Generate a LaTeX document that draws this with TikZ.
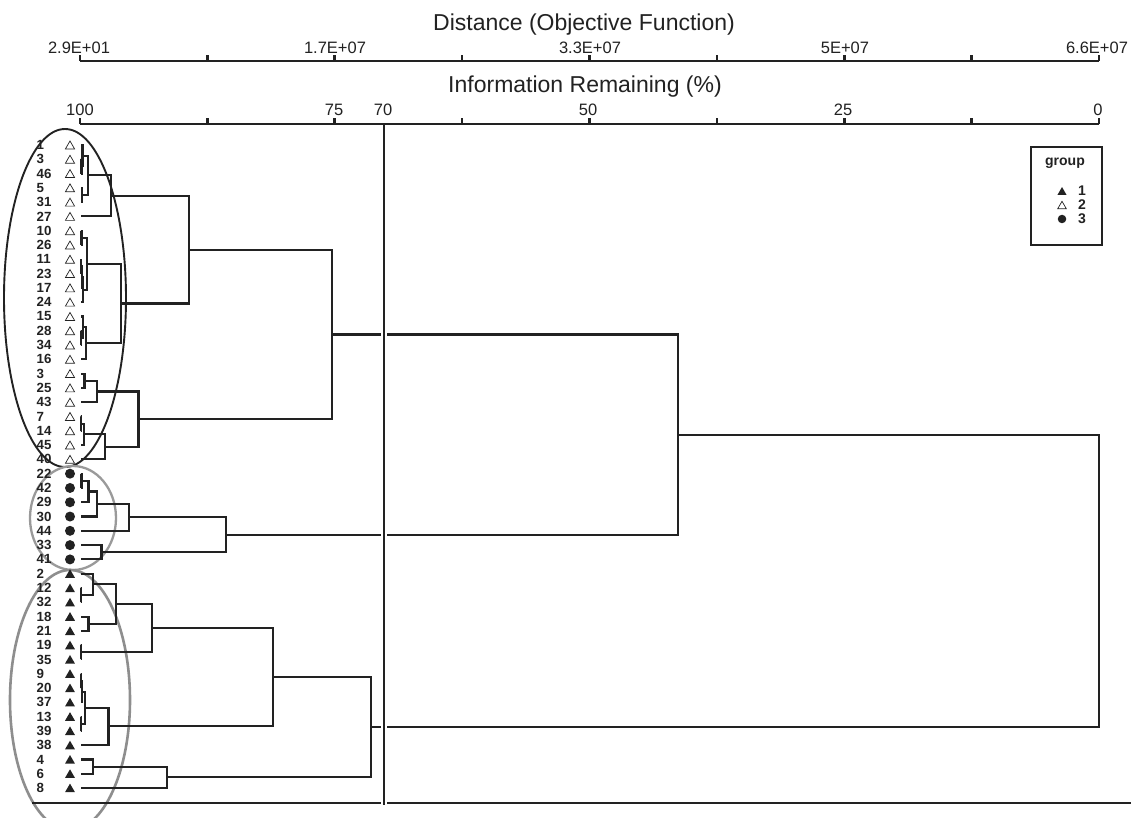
\documentclass[tikz,border=0pt]{standalone}
\usepackage{fontspec}
\setmainfont{Liberation Sans}
\usetikzlibrary{calc,shapes.geometric}
\definecolor{ink}{HTML}{222222}
\definecolor{ringgray}{HTML}{8E8E8E}
\definecolor{ringgrayb}{HTML}{9A9A9A}
\newcommand\myleaf{\fontsize{13.3}{14}\selectfont\bfseries}
\newcommand\mytick{\fontsize{16.5}{18}\selectfont}
\newcommand\mytitle{\fontsize{23}{25}\selectfont}
\newcommand\mylegend{\fontsize{14}{15}\selectfont\bfseries}
\newcommand\dmerge[4]{%
  \path ($(#3)!.5!(#4)$) coordinate (t#1);
  \coordinate (#1) at (#2,0 |- t#1);
  \draw[dline] (#3) -| (#1) |- (#4);
}
\begin{document}
\begin{tikzpicture}[x=1pt,y=-1pt,
  dline/.style={draw=ink,line width=2.1pt},
  axisline/.style={draw=ink,line width=2.6pt},
  lf/.style={font=\myleaf,text=ink,inner sep=0pt,anchor=west},
  ticklab/.style={font=\mytick,text=ink,inner sep=0pt},
  titlelab/.style={font=\mytitle,text=ink,inner sep=0pt},
  symw/.style={regular polygon,regular polygon sides=3,draw=ink,line width=0.7pt,inner sep=0pt,minimum size=10.6pt,yshift=-1.3pt},
  symb/.style={regular polygon,regular polygon sides=3,fill=ink,inner sep=0pt,minimum size=11.5pt,yshift=-1.3pt},
  symc/.style={circle,fill=ink,inner sep=0pt,minimum size=10pt},
  lsymw/.style={symw,minimum size=10pt},
  lsymb/.style={symb,minimum size=10.5pt},
  lsymc/.style={symc,minimum size=8.5pt},
]
\useasboundingbox[fill=white] (0,0) rectangle (1131,818);

% titles and axes
\node[titlelab] (t1) at (584,25) {Distance (Objective Function)};
\node[titlelab] (t2) at (585,87) {Information Remaining (\%)};
\coordinate (a1l) at (80,61); \coordinate (a1r) at (1099,61);
\coordinate (a2l) at (80,124); \coordinate (a2r) at (1099,124);
\draw[axisline] (a1l) -- (a1r);
\draw[axisline] (a2l) -- (a2r);
\foreach \k in {0,...,8} {
  \draw[axisline] ({80+\k*127.375},61) -- ++(0,-5.5);
  \draw[axisline] ({80+\k*127.375},124) -- ++(0,-5.5);
}
\node[ticklab] (d1) at (79,48) {2.9E+01};
\node[ticklab] (d2) at (335,48) {1.7E+07};
\node[ticklab] (d3) at (590,48) {3.3E+07};
\node[ticklab] (d4) at (845,48) {5E+07};
\node[ticklab] (d5) at (1097,48) {6.6E+07};
\node[ticklab] (p1) at (80,110) {100};
\node[ticklab] (p2) at (334,110) {75};
\node[ticklab] (p3) at (383,110) {70};
\node[ticklab] (p4) at (588,110) {50};
\node[ticklab] (p5) at (843,110) {25};
\node[ticklab] (p6) at (1098,110) {0};

% group ellipses
\draw[ink,line width=1.9pt] (65,298) ellipse [x radius=61pt, y radius=169pt];
\draw[ringgrayb,line width=2.3pt] (73,518) ellipse [x radius=43pt, y radius=52pt];
\draw[ringgray,line width=2.6pt] (70,700) ellipse [x radius=60pt, y radius=130pt];

% leaves
\foreach \lab [count=\i] in {1,3,46,5,31,27,10,26,11,23,17,24,15,28,34,16,3,25,43,7,14,45,40} {
  \pgfmathsetmacro\yy{145+(\i-1)*14.29}
  \coordinate (L\i) at (81,\yy);
  \node[lf] (n\i) at (36.5,\yy) {\lab};
  \node[symw,fill=white] (s\i) at (70,\yy) {};
}
\foreach \lab [count=\i from 24] in {22,42,29,30,44,33,41} {
  \pgfmathsetmacro\yy{145+(\i-1)*14.29}
  \coordinate (L\i) at (81,\yy);
  \node[lf] (n\i) at (36.5,\yy) {\lab};
  \node[symc] (s\i) at (70,\yy) {};
}
\foreach \lab [count=\i from 31] in {2,12,32,18,21,19,35,9,20,37,13,39,38,4,6,8} {
  \pgfmathsetmacro\yy{145+(\i-1)*14.29}
  \coordinate (L\i) at (81,\yy);
  \node[lf] (n\i) at (36.5,\yy) {\lab};
  \node[symb] (s\i) at (70,\yy) {};
}

% group 2 (open triangles)
\dmerge{a1}{81.5}{L2}{L3}
\dmerge{a2}{82.5}{L1}{a1}
\dmerge{a3}{82}{L4}{L5}
\dmerge{a4}{88}{a2}{a3}
\dmerge{a5}{111}{a4}{L6}
\dmerge{b1}{81.5}{L7}{L8}
\dmerge{b2}{81}{L9}{L10}
\dmerge{b3}{81.8}{b2}{L11}
\dmerge{b4}{82.6}{b3}{L12}
\dmerge{b5}{87}{b1}{b4}
\dmerge{c1}{81.3}{L14}{L15}
\dmerge{c2}{82.6}{L13}{c1}
\dmerge{c3}{86}{c2}{L16}
\dmerge{bc}{121}{b5}{c3}
\dmerge{ab}{189}{a5}{bc}
\dmerge{d1}{84.5}{L17}{L18}
\dmerge{d2}{97}{d1}{L19}
\dmerge{d3}{81.3}{L20}{L21}
\dmerge{d4}{83.8}{d3}{L22}
\dmerge{d5}{105}{d4}{L23}
\dmerge{d6}{138.5}{d2}{d5}
\dmerge{g2}{332}{ab}{d6}
% group 3 (dots)
\dmerge{e1}{81.5}{L24}{L25}
\dmerge{e2}{88.5}{e1}{L26}
\dmerge{e3}{97}{e2}{L27}
\dmerge{e4}{129}{e3}{L28}
\dmerge{e5}{101.5}{L29}{L30}
\dmerge{g3}{226}{e4}{e5}
% group 1 (filled triangles)
\dmerge{f1}{81.3}{L32}{L33}
\dmerge{f2}{93.3}{L31}{f1}
\dmerge{f3}{88.5}{L34}{L35}
\dmerge{f4}{116}{f2}{f3}
\dmerge{f5}{81.3}{L36}{L37}
\dmerge{f6}{152}{f4}{f5}
\dmerge{h1}{81.3}{L38}{L39}
\dmerge{h2}{82.3}{h1}{L40}
\dmerge{h3}{81.3}{L41}{L42}
\dmerge{h4}{85}{h2}{h3}
\dmerge{h5}{108.5}{h4}{L43}
\dmerge{f7}{273}{f6}{h5}
\dmerge{k1}{93.3}{L44}{L45}
\dmerge{k2}{167}{k1}{L46}
\dmerge{g1}{371}{f7}{k2}
% top joins
\dmerge{g23}{678}{g2}{g3}
\dmerge{root}{1099}{g23}{g1}

% bottom rule and 70 % cut line
\coordinate (bl) at (32,803); \coordinate (br) at (1131,803);
\draw[draw=ink,line width=1.9pt] (bl) -- (br);
\coordinate (vt) at (384,124); \coordinate (vh) at (384,130); \coordinate (vb) at (384,805);
\draw[white,line width=6.5pt] (vh) -- (vb);
\draw[draw=ink,line width=2.4pt] (vt) -- (vb);

% legend
\coordinate (lg1) at (1031,147); \coordinate (lg2) at (1102,245);
\draw[draw=ink,line width=1.9pt] (lg1) rectangle (lg2);
\node[font=\mylegend,text=ink,inner sep=0pt] (lgt) at (1065,163) {group};
\node[lsymb] (ls1) at (1062,191) {};
\node[lsymw] (ls2) at (1062,205) {};
\node[lsymc] (ls3) at (1062,219) {};
\node[font=\mylegend,text=ink,inner sep=0pt] (lt1) at (1082,191) {1};
\node[font=\mylegend,text=ink,inner sep=0pt] (lt2) at (1082,205) {2};
\node[font=\mylegend,text=ink,inner sep=0pt] (lt3) at (1082,219) {3};
\end{tikzpicture}
\end{document}
